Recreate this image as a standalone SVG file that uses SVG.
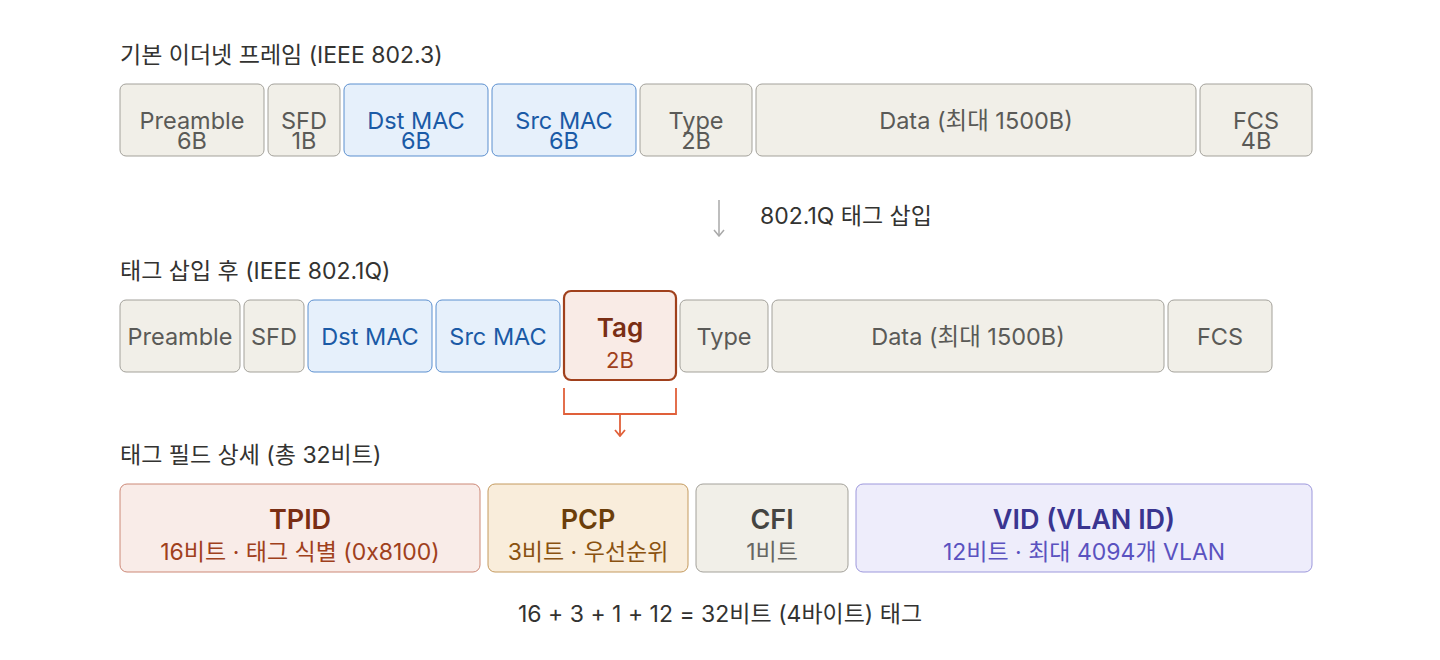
<svg xmlns="http://www.w3.org/2000/svg" width="1440" height="660" viewBox="0 0 1440 660">
<style>
text{font-family:Inter,"Noto Sans CJK KR",sans-serif;}
.h{font-size:23px;fill:#333331;}
.g rect{fill:#f1efe8;stroke:#a3a19a;stroke-width:1;}
.b rect{fill:#e6f0fb;stroke:#5b8fcf;stroke-width:1;}
.g text{fill:#5a5a57;font-size:23.5px;text-anchor:middle;}
.b text{fill:#1a5aa6;font-size:23.5px;text-anchor:middle;}
.t{font-size:27px;font-weight:600;text-anchor:middle;}
.s{font-size:23px;text-anchor:middle;}
</style>
<defs>
<marker id="ag" viewBox="0 0 12 12" refX="11" refY="6" markerWidth="12" markerHeight="12" markerUnits="userSpaceOnUse" orient="auto"><path d="M5,1 L11,6 L5,11" fill="none" stroke="#a9a9a9" stroke-width="1.5"/></marker>
<marker id="ao" viewBox="0 0 12 12" refX="11" refY="6" markerWidth="12" markerHeight="12" markerUnits="userSpaceOnUse" orient="auto"><path d="M5,1 L11,6 L5,11" fill="none" stroke="#e0603a" stroke-width="1.8"/></marker>
</defs>
<rect width="1440" height="660" fill="#ffffff"/>

<text class="h" x="120" y="63">기본 이더넷 프레임 (IEEE 802.3)</text>

<g id="r1-preamble" class="g"><rect x="120" y="84" width="144" height="72" rx="6"/><text x="192" y="129">Preamble</text><text x="192" y="149">6B</text></g>
<g id="r1-sfd" class="g"><rect x="268" y="84" width="72" height="72" rx="6"/><text x="304" y="129">SFD</text><text x="304" y="149">1B</text></g>
<g id="r1-dst" class="b"><rect x="344" y="84" width="144" height="72" rx="6"/><text x="416" y="129">Dst MAC</text><text x="416" y="149">6B</text></g>
<g id="r1-src" class="b"><rect x="492" y="84" width="144" height="72" rx="6"/><text x="564" y="129">Src MAC</text><text x="564" y="149">6B</text></g>
<g id="r1-type" class="g"><rect x="640" y="84" width="112" height="72" rx="6"/><text x="696" y="129">Type</text><text x="696" y="149">2B</text></g>
<g id="r1-data" class="g"><rect x="756" y="84" width="440" height="72" rx="6"/><text x="976" y="129">Data (최대 1500B)</text></g>
<g id="r1-fcs" class="g"><rect x="1200" y="84" width="112" height="72" rx="6"/><text x="1256" y="129">FCS</text><text x="1256" y="149">4B</text></g>

<text class="h" x="760" y="224">802.1Q 태그 삽입</text>

<text class="h" x="120" y="279">태그 삽입 후 (IEEE 802.1Q)</text>

<g id="r2-preamble" class="g"><rect x="120" y="300" width="120" height="72" rx="6"/><text x="180" y="345">Preamble</text></g>
<g id="r2-sfd" class="g"><rect x="244" y="300" width="60" height="72" rx="6"/><text x="274" y="345">SFD</text></g>
<g id="r2-dst" class="b"><rect x="308" y="300" width="124" height="72" rx="6"/><text x="370" y="345">Dst MAC</text></g>
<g id="r2-src" class="b"><rect x="436" y="300" width="124" height="72" rx="6"/><text x="498" y="345">Src MAC</text></g>
<g id="r2-tag"><rect x="564" y="291" width="112" height="89" rx="7" fill="#f9ebe6" stroke="#a0401c" stroke-width="2.2"/><text x="620" y="337" fill="#7a2e14" font-size="26" font-weight="600" text-anchor="middle">Tag</text><text x="620" y="368" fill="#a0401c" font-size="22" text-anchor="middle">2B</text></g>
<g id="r2-type" class="g"><rect x="680" y="300" width="88" height="72" rx="6"/><text x="724" y="345">Type</text></g>
<g id="r2-data" class="g"><rect x="772" y="300" width="392" height="72" rx="6"/><text x="968" y="345">Data (최대 1500B)</text></g>
<g id="r2-fcs" class="g"><rect x="1168" y="300" width="104" height="72" rx="6"/><text x="1220" y="345">FCS</text></g>

<text class="h" x="120" y="463">태그 필드 상세 (총 32비트)</text>

<g id="f-tpid"><rect x="120" y="484" width="360" height="88" rx="7" fill="#f9ece8" stroke="#cc8877" stroke-width="1"/><text class="t" x="300" y="529" fill="#7a2e14">TPID</text><text class="s" x="300" y="560" fill="#a0401c">16비트 · 태그 식별 (0x8100)</text></g>
<g id="f-pcp"><rect x="488" y="484" width="200" height="88" rx="7" fill="#f9eddb" stroke="#c49a5e" stroke-width="1"/><text class="t" x="588" y="529" fill="#6b3e0a">PCP</text><text class="s" x="588" y="560" fill="#8a5210">3비트 · 우선순위</text></g>
<g id="f-cfi"><rect x="696" y="484" width="152" height="88" rx="7" fill="#f1efe8" stroke="#a3a19a" stroke-width="1"/><text class="t" x="772" y="529" fill="#444441">CFI</text><text class="s" x="772" y="560" fill="#666663">1비트</text></g>
<g id="f-vid"><rect x="856" y="484" width="456" height="88" rx="7" fill="#eeedfb" stroke="#9d98dc" stroke-width="1"/><text class="t" x="1084" y="529" fill="#3a3590">VID (VLAN ID)</text><text class="s" x="1084" y="560" fill="#5a52c0">12비트 · 최대 4094개 VLAN</text></g>

<text class="h" x="720" y="622" text-anchor="middle">16 + 3 + 1 + 12 = 32비트 (4바이트) 태그</text>

<g id="connectors">
<line x1="719" y1="200" x2="719" y2="236" stroke="#a9a9a9" stroke-width="1.5" marker-end="url(#ag)"/>
<path d="M564,388 V414 H676 V388" fill="none" stroke="#e0603a" stroke-width="1.8"/>
<line x1="620" y1="414" x2="620" y2="436" stroke="#e0603a" stroke-width="1.8" marker-end="url(#ao)"/>
</g>
</svg>
